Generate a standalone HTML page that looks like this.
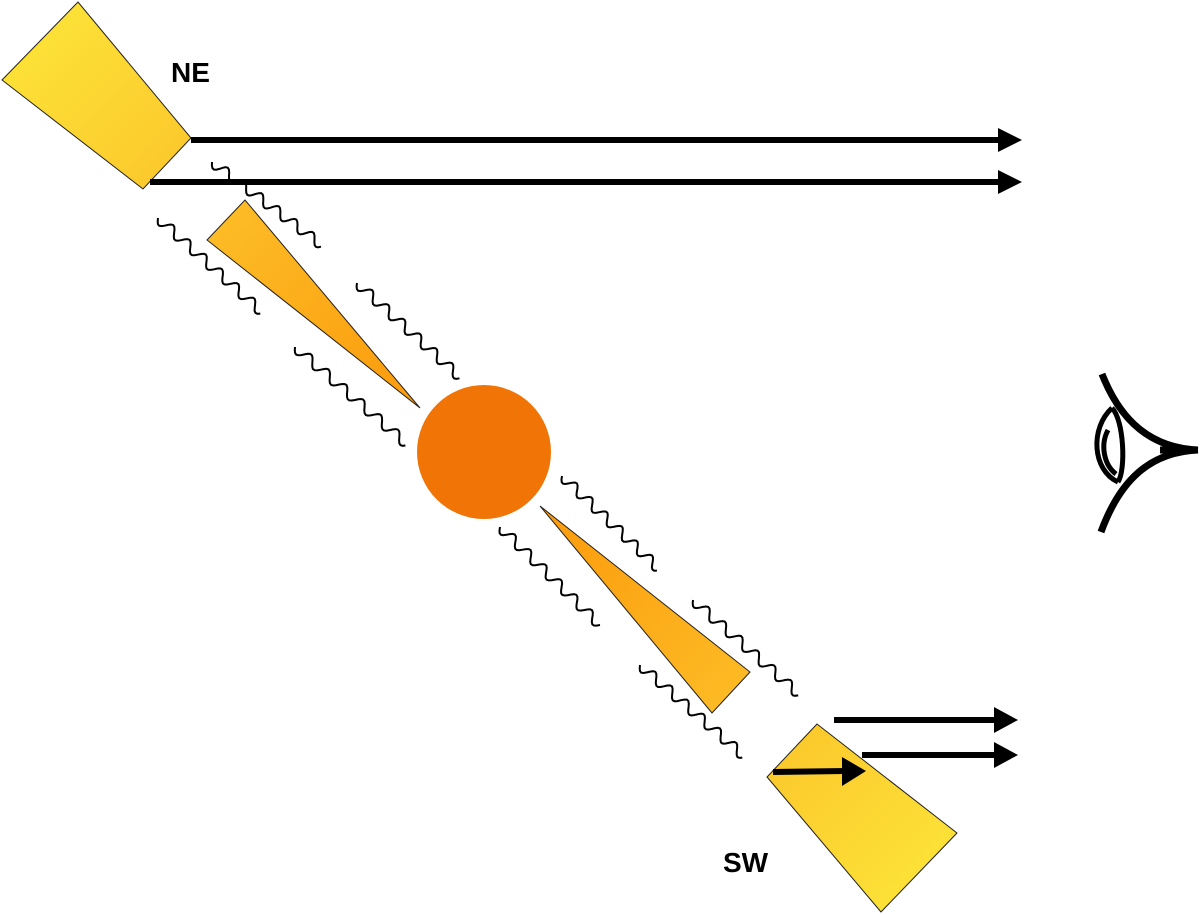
<!DOCTYPE html>
<html><head><meta charset="utf-8"><style>html,body{margin:0;padding:0;background:#fff}svg{display:block}</style></head><body>
<svg id="s" width="1200" height="915" viewBox="0 0 1200 915" xmlns="http://www.w3.org/2000/svg">
<defs>
<linearGradient id="g1" x1="0" y1="0" x2="1" y2="1"><stop offset="0" stop-color="#fde83a"/><stop offset="1" stop-color="#fbc52a"/></linearGradient>
<linearGradient id="g2" x1="0" y1="0" x2="1" y2="1"><stop offset="0" stop-color="#fdbf28"/><stop offset="1" stop-color="#fb9a0c"/></linearGradient>
<linearGradient id="g3" x1="1" y1="1" x2="0" y2="0"><stop offset="0" stop-color="#fdbd26"/><stop offset="1" stop-color="#fb9a0c"/></linearGradient>
<linearGradient id="g4" x1="1" y1="1" x2="0" y2="0"><stop offset="0" stop-color="#fde83a"/><stop offset="1" stop-color="#fbc52a"/></linearGradient>
</defs>
<polygon points="2,80 78,2 191,138 143,189" fill="url(#g1)" stroke="#222" stroke-width="1"/>
<polygon points="207,240 245,200 420,408" fill="url(#g2)" stroke="#222" stroke-width="1"/>
<circle cx="484" cy="452" r="67" fill="#f07406"/>
<polygon points="540,506 750,672 712,713" fill="url(#g3)" stroke="#222" stroke-width="1"/>
<polygon points="817,724 767,777 881,912 957,833" fill="url(#g4)" stroke="#222" stroke-width="1"/>
<g stroke="#000" stroke-width="6" fill="#000">
<line x1="191" y1="140" x2="1000" y2="140"/><polygon points="998,128 1022,140 998,152" stroke="none"/>
<line x1="150" y1="182" x2="1000" y2="182"/><polygon points="998,170 1022,182 998,194" stroke="none"/>
<line x1="834" y1="720" x2="996" y2="720"/><polygon points="994,707 1018,720 994,733" stroke="none"/>
<line x1="862" y1="755" x2="996" y2="755"/><polygon points="994,742 1018,755 994,768" stroke="none"/>
<line x1="773" y1="772" x2="845" y2="771"/><polygon points="842,757 866,771 842,786" stroke="none"/>
</g>
<g id="w" fill="none" stroke="#000" stroke-width="2"></g>
<path d="M1102,374 C1120,420 1150,448 1198,450 M1198,450 C1150,452 1120,480 1101,532 M1196,450 L1160,450" fill="none" stroke="#000" stroke-width="7"/>
<path d="M1112,408 C1090,428 1092,470 1118,482 M1108,430 C1100,445 1104,465 1116,474 M1112,408 C1124,420 1126,470 1118,482" fill="none" stroke="#000" stroke-width="5"/>
<text x="171" y="82" font-family="Liberation Sans, sans-serif" font-weight="bold" font-size="28">NE</text>
<text x="723" y="872" font-family="Liberation Sans, sans-serif" font-weight="bold" font-size="28">SW</text>
</svg>
<script>
var L=[[212,162,323,246],[158,218,263,313],[357,283,461,378],[295,347,408,445],[562,476,660,570],[500,527,600,625],[693,600,800,695],[640,665,745,757]];
var g=document.getElementById('w');
L.forEach(function(l){var dx=l[2]-l[0],dy=l[3]-l[1],len=Math.hypot(dx,dy),ux=dx/len,uy=dy/len,nx=-uy,ny=ux,d='';
for(var t=0;t<=len;t+=2){var a=5*Math.sin(t/len*Math.PI*2*6.5);var x=l[0]+ux*t+nx*a,y=l[1]+uy*t+ny*a;d+=(t?'L':'M')+x.toFixed(1)+','+y.toFixed(1);}
var p=document.createElementNS('http://www.w3.org/2000/svg','path');p.setAttribute('d',d);g.appendChild(p);});
</script>
</body></html>
